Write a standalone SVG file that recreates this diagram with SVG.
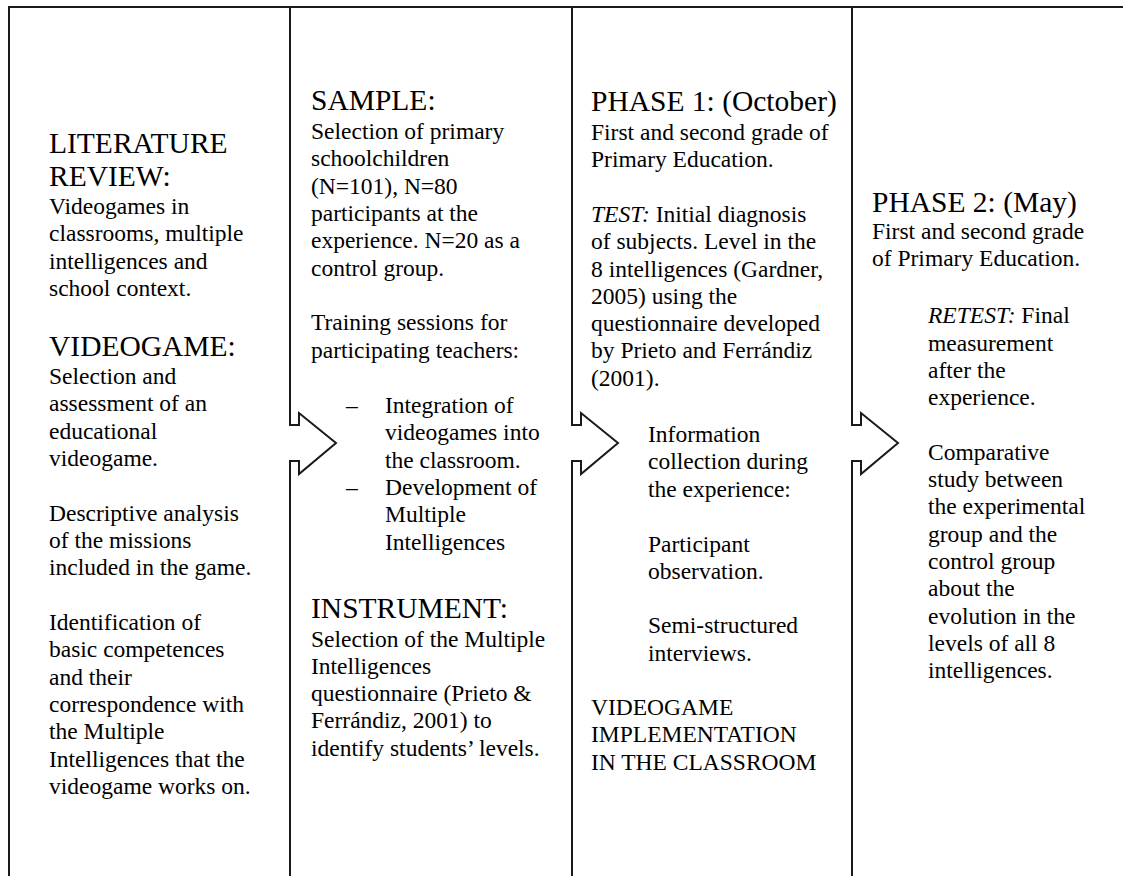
<svg xmlns="http://www.w3.org/2000/svg" width="1123" height="876" viewBox="0 0 1123 876">
  <style>
    text { font-family: "Liberation Serif", "Times New Roman", serif; fill: #000; }
    .h { font-size: 29.5px; }
    .b { font-size: 23.5px; }
    .i { font-style: italic; }
    .rule { fill: none; stroke: #1a1a1a; stroke-width: 2; stroke-linejoin: miter; }
  </style>
  <rect x="0" y="0" width="1123" height="876" fill="#fff"/>

  <!-- frame and block-arrow dividers between the stages -->
  <g id="connectors">
    <path class="rule" d="M1123,7 H9 V876"/>
    <path class="rule" d="M290,7 V425 H299 V413 L336,443 L299,474 V461 H290 V876"/>
    <path class="rule" d="M572,7 V425 H581 V413 L618,443 L581,474 V461 H572 V876"/>
    <path class="rule" d="M852,7 V425 H861 V413 L898,443 L861,474 V461 H852 V876"/>
  </g>

  <!-- stage 1: literature review and videogame selection -->
  <g id="node-literature">
    <text class="h" x="49" y="152.5">LITERATURE</text>
    <text class="h" x="49" y="185.5">REVIEW:</text>
    <text class="b" x="49" y="214">Videogames in</text>
    <text class="b" x="49" y="241.3">classrooms, multiple</text>
    <text class="b" x="49" y="268.6">intelligences and</text>
    <text class="b" x="49" y="296">school context.</text>
    <text class="h" x="49" y="356">VIDEOGAME:</text>
    <text class="b" x="49" y="384">Selection and</text>
    <text class="b" x="49" y="411.3">assessment of an</text>
    <text class="b" x="49" y="438.6">educational</text>
    <text class="b" x="49" y="466">videogame.</text>
    <text class="b" x="49" y="520.6">Descriptive analysis</text>
    <text class="b" x="49" y="548">of the missions</text>
    <text class="b" x="49" y="575.3">included in the game.</text>
    <text class="b" x="49" y="630">Identification of</text>
    <text class="b" x="49" y="657.3">basic competences</text>
    <text class="b" x="49" y="684.6">and their</text>
    <text class="b" x="49" y="712">correspondence with</text>
    <text class="b" x="49" y="739.3">the Multiple</text>
    <text class="b" x="49" y="766.6">Intelligences that the</text>
    <text class="b" x="49" y="794">videogame works on.</text>
  </g>

  <!-- stage 2: sample, teacher training and instrument -->
  <g id="node-sample">
    <text class="h" x="311" y="110">SAMPLE:</text>
    <text class="b" x="311" y="139">Selection of primary</text>
    <text class="b" x="311" y="166.3">schoolchildren</text>
    <text class="b" x="311" y="193.6">(N=101), N=80</text>
    <text class="b" x="311" y="221">participants at the</text>
    <text class="b" x="311" y="248.3">experience. N=20 as a</text>
    <text class="b" x="311" y="275.6">control group.</text>
    <text class="b" x="311" y="330.3">Training sessions for</text>
    <text class="b" x="311" y="357.6">participating teachers:</text>
    <text class="b" x="346" y="413">–</text>
    <text class="b" x="385" y="413">Integration of</text>
    <text class="b" x="385" y="440.3">videogames into</text>
    <text class="b" x="385" y="467.6">the classroom.</text>
    <text class="b" x="346" y="495">–</text>
    <text class="b" x="385" y="495">Development of</text>
    <text class="b" x="385" y="522.3">Multiple</text>
    <text class="b" x="385" y="549.6">Intelligences</text>
    <text class="h" x="311" y="618">INSTRUMENT:</text>
    <text class="b" x="311" y="646.5">Selection of the Multiple</text>
    <text class="b" x="311" y="673.8">Intelligences</text>
    <text class="b" x="311" y="701.1">questionnaire (Prieto &amp;</text>
    <text class="b" x="311" y="728.4">Ferrándiz, 2001) to</text>
    <text class="b" x="311" y="755.7">identify students’ levels.</text>
  </g>

  <!-- stage 3: phase 1, initial test and implementation -->
  <g id="node-phase1">
    <text class="h" x="591" y="111">PHASE 1: (October)</text>
    <text class="b" x="591" y="140">First and second grade of</text>
    <text class="b" x="591" y="167.3">Primary Education.</text>
    <text class="b" x="591" y="221.9"><tspan class="i">TEST:</tspan> Initial diagnosis</text>
    <text class="b" x="591" y="249.2">of subjects. Level in the</text>
    <text class="b" x="591" y="276.5">8 intelligences (Gardner,</text>
    <text class="b" x="591" y="303.8">2005) using the</text>
    <text class="b" x="591" y="331.1">questionnaire developed</text>
    <text class="b" x="591" y="358.4">by Prieto and Ferrándiz</text>
    <text class="b" x="591" y="385.7">(2001).</text>
    <text class="b" x="648" y="442">Information</text>
    <text class="b" x="648" y="469.3">collection during</text>
    <text class="b" x="648" y="496.6">the experience:</text>
    <text class="b" x="648" y="551.5">Participant</text>
    <text class="b" x="648" y="578.8">observation.</text>
    <text class="b" x="648" y="633.3">Semi-structured</text>
    <text class="b" x="648" y="660.6">interviews.</text>
    <text class="b" x="591" y="715">VIDEOGAME</text>
    <text class="b" x="591" y="742.3">IMPLEMENTATION</text>
    <text class="b" x="591" y="769.6">IN THE CLASSROOM</text>
  </g>

  <!-- stage 4: phase 2, retest and comparison -->
  <g id="node-phase2">
    <text class="h" x="872" y="211.7">PHASE 2: (May)</text>
    <text class="b" x="872" y="239">First and second grade</text>
    <text class="b" x="872" y="266.3">of Primary Education.</text>
    <text class="b" x="928" y="323.3"><tspan class="i">RETEST:</tspan> Final</text>
    <text class="b" x="928" y="350.6">measurement</text>
    <text class="b" x="928" y="377.9">after the</text>
    <text class="b" x="928" y="405.2">experience.</text>
    <text class="b" x="928" y="459.8">Comparative</text>
    <text class="b" x="928" y="487.1">study between</text>
    <text class="b" x="928" y="514.4">the experimental</text>
    <text class="b" x="928" y="541.7">group and the</text>
    <text class="b" x="928" y="569">control group</text>
    <text class="b" x="928" y="596.3">about the</text>
    <text class="b" x="928" y="623.6">evolution in the</text>
    <text class="b" x="928" y="650.9">levels of all 8</text>
    <text class="b" x="928" y="678.2">intelligences.</text>
  </g>
</svg>
